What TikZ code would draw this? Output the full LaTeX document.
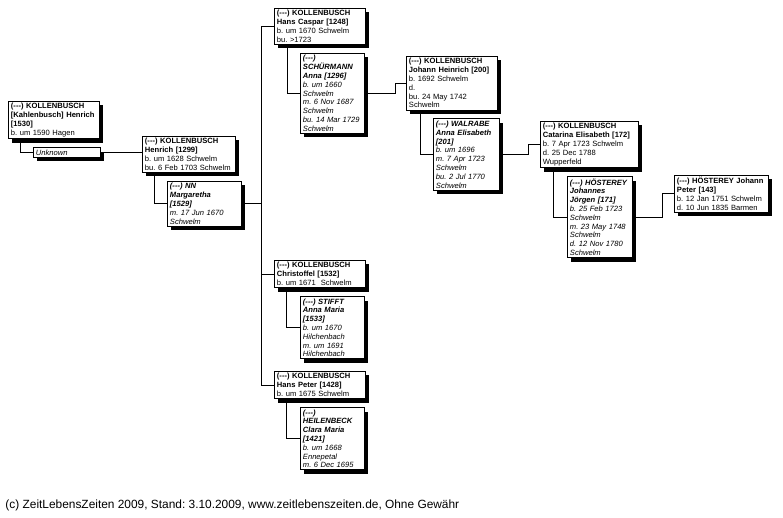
\documentclass[tikz,border=0pt]{standalone}
\usepackage{fontspec}
\setmainfont{Liberation Sans}
\usetikzlibrary{shadows}
\newcommand\dsh{(-{}-{}-)}
\frenchspacing
\begin{document}
\begin{tikzpicture}[x=1pt,y=-1pt, line width=0.9pt,
 box/.style={draw, fill=white, anchor=north west, align=left, inner xsep=2.5pt, inner ysep=2pt,
   font=\fontsize{7.6}{8.8}\selectfont,
   general shadow={fill=black, shadow xshift=4pt, shadow yshift=-4pt}},
 main/.style={box, text width=#1},
 main/.default=85.5pt,
 spouse/.style={box, text width=#1, font=\fontsize{7.6}{8.8}\selectfont\itshape},
 spouse/.default=58.5pt,
]
\useasboundingbox (0,0) rectangle (783,517);

\coordinate (tx) at (261,0);
\coordinate (b1) at (395,0);
\coordinate (b2) at (528,0);
\coordinate (b3) at (662,0);

\node[main=86pt] (A) at (8,101) {\textbf{\dsh{} KOLLENBUSCH}\\\textbf{[Kahlenbusch] Henrich}\\\textbf{[1530]}\\b. um 1590 Hagen};
\node[spouse=62pt] (U) at ([xshift=25pt,yshift=-8pt]A.south west) {Unknown};

\node[main=88pt] (H) at (142,136) {\textbf{\dsh{} KOLLENBUSCH}\\\textbf{Henrich [1299]}\\b. um 1628 Schwelm\\bu. 6 Feb 1703 Schwelm};
\node[spouse=69pt] (NN) at ([xshift=25pt,yshift=-8pt]H.south west) {\textbf{\dsh{} NN}\\\textbf{Margaretha}\\\textbf{[1529]}\\m. 17 Jun 1670\\Schwelm};

\node[main] (HC) at (274,8) {\textbf{\dsh{} KOLLENBUSCH}\\\textbf{Hans Caspar [1248]}\\b. um 1670 Schwelm\\bu. >1723};
\node[spouse] (SC) at ([xshift=26pt,yshift=-8pt]HC.south west) {\textbf{\dsh{}}\\\textbf{SCHÜRMANN}\\\textbf{Anna [1296]}\\b. um 1660\\Schwelm\\m. 6 Nov 1687\\Schwelm\\bu. 14 Mar 1729\\Schwelm};

\node[main] (JH) at (406,56) {\textbf{\dsh{} KOLLENBUSCH}\\\textbf{Johann Heinrich [200]}\\b. 1692 Schwelm\\d.\\bu. 24 May 1742\\Schwelm};
\node[spouse=61pt] (WA) at ([xshift=27pt,yshift=-8pt]JH.south west) {\textbf{\dsh{} WALRABE}\\\textbf{Anna Elisabeth}\\\textbf{[201]}\\b. um 1696\\m. 7 Apr 1723\\Schwelm\\bu. 2 Jul 1770\\Schwelm};

\node[main=93pt] (CA) at (540,121) {\textbf{\dsh{} KOLLENBUSCH}\\\textbf{Catarina Elisabeth [172]}\\b. 7 Apr 1723 Schwelm\\d. 25 Dec 1788\\Wupperfeld};
\node[spouse=60pt] (HO) at ([xshift=27pt,yshift=-8pt]CA.south west) {\textbf{\dsh{} HÖSTEREY}\\\textbf{Johannes}\\\textbf{Jörgen [171]}\\b. 25 Feb 1723\\Schwelm\\m. 23 May 1748\\Schwelm\\d. 12 Nov 1780\\Schwelm};

\node[main=89pt] (HJP) at (674,175) {\textbf{\dsh{} HÖSTEREY Johann}\\\textbf{Peter [143]}\\b. 12 Jan 1751 Schwelm\\d. 10 Jun 1835 Barmen};

\node[main] (CH) at (274,260) {\textbf{\dsh{} KOLLENBUSCH}\\\textbf{Christoffel [1532]}\\b. um 1671\ \ Schwelm};
\node[spouse] (ST) at ([xshift=26pt,yshift=-8pt]CH.south west) {\textbf{\dsh{} STIFFT}\\\textbf{Anna Maria}\\\textbf{[1533]}\\b. um 1670\\Hilchenbach\\m. um 1691\\Hilchenbach};

\node[main] (HP) at (274,371) {\textbf{\dsh{} KOLLENBUSCH}\\\textbf{Hans Peter [1428]}\\b. um 1675 Schwelm};
\node[spouse] (HE) at ([xshift=26pt,yshift=-8pt]HP.south west) {\textbf{\dsh{}}\\\textbf{HEILENBECK}\\\textbf{Clara Maria}\\\textbf{[1421]}\\b. um 1668\\Ennepetal\\m. 6 Dec 1695};

\draw ([xshift=12pt]A.south west) |- (U.west);
\draw (U.east) -- (U.east -| H.west);
\draw ([xshift=12pt]H.south west) |- (NN.west);
\draw (NN.east) -- (NN.east -| tx);
\draw (HC.west) -- (HC.west -| tx) -- (HP.west -| tx) -- (HP.west);
\draw (CH.west) -- (CH.west -| tx);
\draw ([xshift=13pt]HC.south west) |- (SC.west);
\draw (SC.east) -- (SC.east -| b1) |- (JH.west);
\draw ([xshift=14pt]JH.south west) |- (WA.west);
\draw (WA.east) -- (WA.east -| b2) |- (CA.west);
\draw ([xshift=13pt]CA.south west) |- (HO.west);
\draw (HO.east) -- (HO.east -| b3) |- (HJP.west);
\draw ([xshift=12pt]CH.south west) |- (ST.west);
\draw ([xshift=12pt]HP.south west) |- (HE.west);

\node[anchor=base west, inner sep=0pt, font=\fontsize{11.9}{14}\selectfont] (foot) at (5,508) {(c) ZeitLebensZeiten 2009, Stand: 3.10.2009, www.zeitlebenszeiten.de, Ohne Gewähr};
\end{tikzpicture}
\end{document}
